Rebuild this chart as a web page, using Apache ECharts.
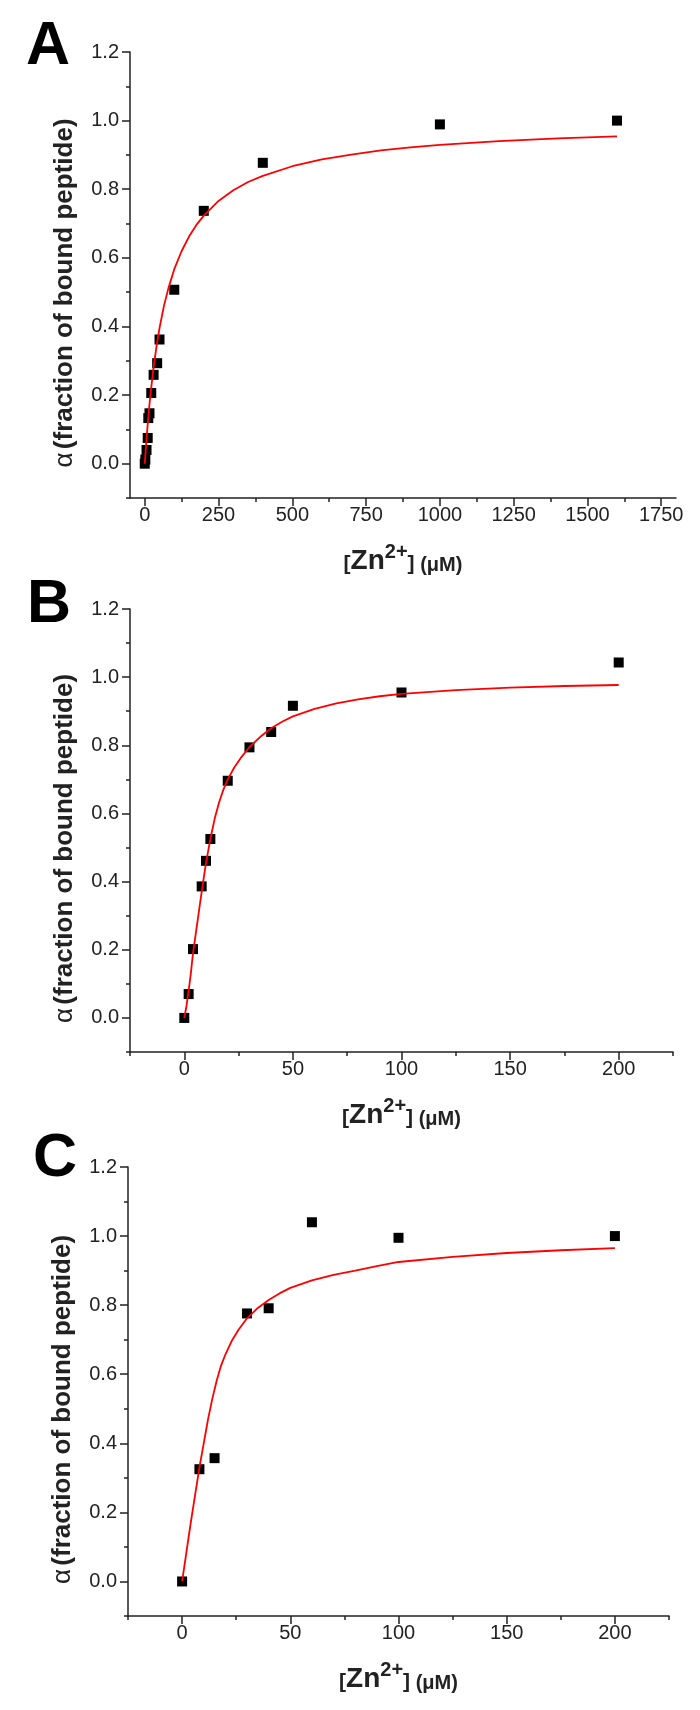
<!DOCTYPE html>
<html>
<head>
<meta charset="utf-8">
<script src="https://cdn.jsdelivr.net/npm/echarts@6/dist/echarts.min.js"></script>
<style>html,body{margin:0;padding:0;background:#fff}#c{width:700px;height:1710px}</style>
</head>
<body>
<div id="c"></div>
<script>
// ---- Panel A data ----
const aX = [0, 2, 6, 10, 12, 16, 22, 30, 42, 50, 100, 200, 400, 1000, 1600];
const aY = [0.0, 0.012, 0.04, 0.075, 0.133, 0.147, 0.206, 0.259, 0.293, 0.362, 0.507, 0.737, 0.877, 0.989, 1.0];
const aFitX = [0, 3, 6, 10, 15, 20, 30, 40, 50, 65, 80, 100, 125, 150, 175, 200, 250, 300, 350, 400, 500, 600, 700, 800, 900, 1000, 1200, 1400, 1600];
const aFitY = [0, 0.037, 0.073, 0.115, 0.164, 0.207, 0.282, 0.343, 0.395, 0.46, 0.511, 0.567, 0.62, 0.662, 0.696, 0.723, 0.766, 0.797, 0.821, 0.839, 0.867, 0.887, 0.901, 0.913, 0.922, 0.929, 0.94, 0.948, 0.954];
const aXTicks = [0, 250, 500, 750, 1000, 1250, 1500, 1750];
const aXMinor = [125, 375, 625, 875, 1125, 1375, 1625];

// ---- Panel B data ----
const bX = [0, 2, 4, 8, 10, 12, 20, 30, 40, 50, 100, 200];
const bY = [0.0, 0.07, 0.202, 0.386, 0.461, 0.525, 0.696, 0.794, 0.839, 0.916, 0.955, 1.043];
const bFitX = [0, 1, 2, 3, 4, 5, 6, 7, 8, 9, 10, 11, 12, 14, 16, 18, 20, 23, 26, 30, 35, 40, 45, 50, 60, 70, 80, 90, 100, 125, 150, 175, 200];
const bFitY = [0, 0.035, 0.08, 0.13, 0.19, 0.235, 0.28, 0.325, 0.37, 0.413, 0.455, 0.49, 0.525, 0.585, 0.632, 0.67, 0.70, 0.735, 0.763, 0.795, 0.825, 0.85, 0.869, 0.885, 0.907, 0.923, 0.935, 0.944, 0.951, 0.962, 0.969, 0.974, 0.977];

// ---- Panel C data ----
const cX = [0, 8, 15, 30, 40, 60, 100, 200];
const cY = [0.0, 0.325, 0.357, 0.776, 0.791, 1.04, 0.995, 1.0];
const cFitX = [0, 1, 2, 3, 4, 5, 6, 7, 8, 9, 10, 11, 12, 14, 16, 18, 20, 23, 26, 30, 35, 40, 45, 50, 60, 70, 80, 90, 100, 125, 150, 175, 200];
const cFitY = [0, 0.042, 0.085, 0.128, 0.17, 0.21, 0.25, 0.29, 0.33, 0.365, 0.40, 0.435, 0.47, 0.53, 0.582, 0.625, 0.657, 0.697, 0.728, 0.762, 0.792, 0.815, 0.834, 0.85, 0.872, 0.888, 0.9, 0.913, 0.925, 0.94, 0.951, 0.959, 0.965];

const bcXTicks = [0, 50, 100, 150, 200];
const bcXMinor = [-25, 25, 75, 125, 175, 225];
const yTicks = [0.0, 0.2, 0.4, 0.6, 0.8, 1.0, 1.2];
const yMinor = [-0.1, 0.1, 0.3, 0.5, 0.7, 0.9, 1.1];

const panelLetters = ['A', 'B', 'C'];
const xTitle = '{br|[}{zn|Zn}{sup|2+}{br|]}{u| (\u03bcM)}';
const yTitle = '{a|\u03b1} {t|(fraction of bound peptide)}';

const FONT = 'Liberation Sans, Arial, sans-serif';
const AX = '#222';

const panels = [
  {grid: {left: 130, top: 52, width: 546, height: 446}, xr: [-50, 1800], xt: aXTicks, xm: aXMinor, pts: [aX, aY], fit: [aFitX, aFitY], letter: [26, 17]},
  {grid: {left: 130, top: 609, width: 543, height: 443}, xr: [-25, 225], xt: bcXTicks, xm: bcXMinor, pts: [bX, bY], fit: [bFitX, bFitY], letter: [27, 575]},
  {grid: {left: 128, top: 1167, width: 541, height: 449}, xr: [-25, 225], xt: bcXTicks, xm: bcXMinor, pts: [cX, cY], fit: [cFitX, cFitY], letter: [33, 1129]}
];

const zip = (xs, ys) => xs.map((x, i) => [x, ys[i]]);

const grid = [], xAxis = [], yAxis = [], series = [], graphic = [];
panels.forEach((p, i) => {
  grid.push(p.grid);
  const base = {gridIndex: i, type: 'value', splitLine: {show: false}};
  xAxis.push(Object.assign({}, base, {
    min: p.xr[0], max: p.xr[1], position: 'bottom',
    name: xTitle, nameLocation: 'middle', nameGap: 44,
    nameTextStyle: {
      color: AX, fontFamily: FONT,
      rich: {
        br: {fontSize: 21, fontWeight: 'bold', fontFamily: FONT, color: AX, verticalAlign: 'bottom'},
        zn: {fontSize: 28, fontWeight: 'bold', fontFamily: FONT, color: AX, verticalAlign: 'bottom'},
        sup: {fontSize: 20, fontWeight: 'bold', fontFamily: FONT, color: AX, verticalAlign: 'bottom', padding: [0, 0, 13, 0]},
        u: {fontSize: 20, fontWeight: 'bold', fontFamily: FONT, color: AX, verticalAlign: 'bottom'}
      }
    },
    axisLine: {show: true, onZero: false, lineStyle: {color: AX, width: 1.5}},
    axisTick: {show: true, length: 8, customValues: p.xt, lineStyle: {color: AX, width: 1.5}},
    axisLabel: {customValues: p.xt, margin: 7, fontSize: 20, fontFamily: FONT, color: AX,
      formatter: v => String(v)}
  }));
  xAxis.push(Object.assign({}, base, {
    min: p.xr[0], max: p.xr[1], position: 'bottom',
    axisLine: {show: false, onZero: false},
    axisTick: {show: true, length: 4, customValues: p.xm, lineStyle: {color: AX, width: 1.5}},
    axisLabel: {show: false}
  }));
  yAxis.push(Object.assign({}, base, {
    min: -0.1, max: 1.2, position: 'left',
    name: yTitle, nameLocation: 'middle', nameGap: 52,
    nameTextStyle: {
      fontFamily: FONT, color: AX, padding: [0, 36, 0, 0],
      rich: {
        a: {fontSize: 26, fontFamily: FONT, color: AX},
        t: {fontSize: 26, fontWeight: 'bold', fontFamily: FONT, color: AX}
      }
    },
    axisLine: {show: true, onZero: false, lineStyle: {color: AX, width: 1.5}},
    axisTick: {show: true, length: 8, customValues: yTicks, lineStyle: {color: AX, width: 1.5}},
    axisLabel: {customValues: yTicks, margin: 11, fontSize: 20, fontFamily: FONT, color: AX,
      formatter: v => Number(v).toFixed(1)}
  }));
  yAxis.push(Object.assign({}, base, {
    min: -0.1, max: 1.2, position: 'left',
    axisLine: {show: false, onZero: false},
    axisTick: {show: true, length: 4, customValues: yMinor, lineStyle: {color: AX, width: 1.5}},
    axisLabel: {show: false}
  }));
  series.push({
    type: 'scatter', xAxisIndex: 2 * i, yAxisIndex: 2 * i,
    symbol: 'rect', symbolSize: 10, itemStyle: {color: '#000', opacity: 1},
    data: zip(p.pts[0], p.pts[1]), z: 2, silent: true
  });
  series.push({
    type: 'line', xAxisIndex: 2 * i, yAxisIndex: 2 * i,
    data: zip(p.fit[0], p.fit[1]), showSymbol: false, smooth: false,
    lineStyle: {color: '#f00', width: 1.8}, z: 3, silent: true
  });
  graphic.push({
    type: 'text', left: p.letter[0], top: p.letter[1],
    style: {text: panelLetters[i], font: 'bold 61px ' + FONT, fill: '#000'}
  });
});

const chart = echarts.init(document.getElementById('c'), null, {renderer: 'canvas'});
chart.setOption({
  backgroundColor: '#fff',
  animation: false,
  grid, xAxis, yAxis, series, graphic
});
</script>
</body>
</html>
